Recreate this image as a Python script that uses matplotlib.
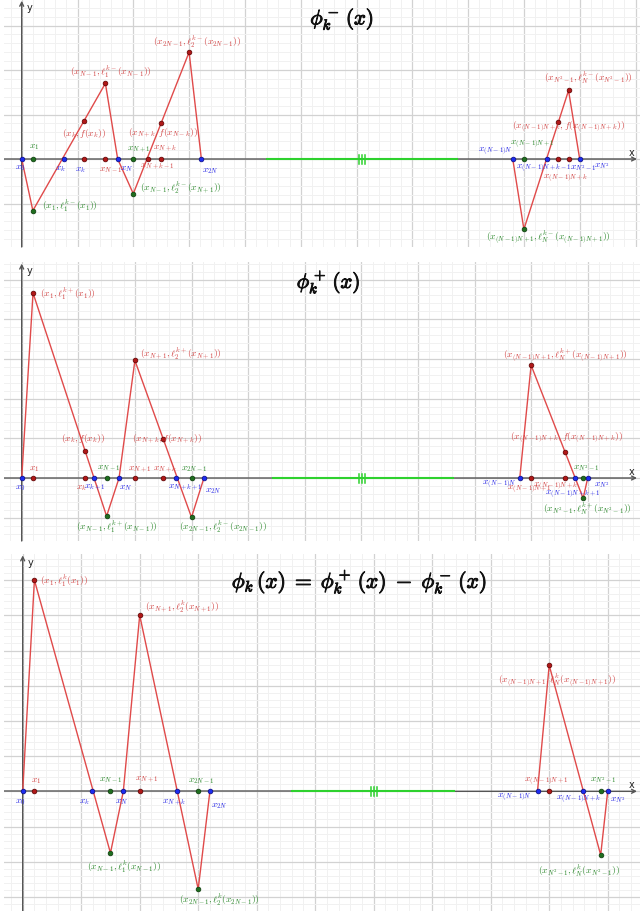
import numpy as np
import matplotlib
matplotlib.use("Agg")
import matplotlib.pyplot as plt
import matplotlib.patheffects as pe

plt.rcParams['mathtext.fontset'] = 'cm'
plt.rcParams['font.family'] = ['DejaVu Sans']

# ---------------- data ----------------
# panel 1 : phi_k^-
p1_left_x = [0, 1, 7.5, 8.6, 10, 15, 16.1]
p1_left_y = [0, -5.8, 8.5, 0, -3.9, 12.0, 0]
p1_right_x = [44, 45, 49, 50]
p1_right_y = [0, -7.9, 7.7, 0]
p1_blue = [0, 3.8, 8.6, 16.1, 44, 47.1, 50]
p1_red_axis = [5.6, 7.5, 11.3, 12.5, 48.1, 49]
p1_green_axis = [1, 10, 45]
p1_red_on_curve = [5.6, 7.5, 12.5, 15, 48.1, 49]
p1_green_on_curve = [1, 10, 45]
p1_gap = [22, 39, 30.5]

# panel 2 : phi_k^+
p2_left_x = [0, 1, 7.5, 8.6, 10, 15, 16.1]
p2_left_y = [0, 23.3, -4.8, 0, 14.8, -4.95, 0]
p2_right_x = [44, 45, 49.6, 50]
p2_right_y = [0, 14.2, -2.56, 0]
p2_blue = [0, 6.4, 8.6, 13.6, 16.1, 44, 48.9, 50]
p2_red_axis = [1, 5.6, 10, 12.5, 45, 48]
p2_green_axis = [7.5, 15, 49.6]
p2_red_on_curve = [1, 5.6, 10, 12.5, 45, 48]
p2_green_on_curve = [7.5, 15, 49.6]
p2_gap = [22.2, 38.1, 30.1]

# panel 3 : phi_k = phi_k^+ - phi_k^-
p3_left_x = [0, 1, 7.5, 8.6, 10, 15, 16.0]
p3_left_y = [0, 30.0, -8.76, 0, 25.0, -13.9, 0]
p3_right_x = [44, 45, 49.4, 50]
p3_right_y = [0, 17.9, -9.05, 0]
p3_blue = [0, 5.9, 8.6, 13.2, 16.0, 44, 47.9, 50]
p3_red_axis = [1, 10, 45]
p3_green_axis = [7.5, 15, 49.4]
p3_red_on_curve = [1, 10, 45]
p3_green_on_curve = [7.5, 15, 49.4]
p3_gap = [23, 36.9, 30]

R, G, B = 'r', 'g', 'b'
labels1 = [
    (r"$x_1$", 0.65, 1.46, G), (r"$x_0$", -0.6, -0.9, B),
    (r"$(x_1,\ell_1^{k-}(x_1))$", 1.82, -5.17, G),
    (r"$x_k$", 2.98, -1.0, B), (r"$x_k$", 4.78, -1.12, B),
    (r"$(x_k,f(x_k))$", 3.61, 3.03, R),
    (r"$x_{N-1}$", 6.93, -1.12, R), (r"$x_N$", 8.8, -1.0, B),
    (r"$(x_{N-1},\ell_1^{k-}(x_{N-1}))$", 4.33, 9.78, R),
    (r"$x_{N+1}$", 9.44, 1.12, G),
    (r"$(x_{N+k},f(x_{N-k}))$", 9.53, 3.03, R),
    (r"$x_{N+k}$", 11.76, 1.24, R), (r"$x_{N+k-1}$", 10.6, -0.79, R),
    (r"$(x_{N-1},\ell_2^{k-}(x_{N+1}))$", 10.6, -3.15, G),
    (r"$(x_{2N-1},\ell_2^{k-}(x_{2N-1}))$", 11.76, 13.15, R),
    (r"$x_{2N}$", 16.2, -1.24, B),
    (r"$x_{(N-1)N}$", 40.9, 0.9, B), (r"$x_{(N-1)N+1}$", 43.75, 1.69, G),
    (r"$x_{(N-1)N+k-1}$", 44.3, -1.0, B), (r"$x_{N^2-1}$", 49.1, -0.9, B),
    (r"$x_{N^2}$", 51.3, -0.67, B), (r"$x_{(N-1)N+k}$", 46.7, -2.13, R),
    (r"$(x_{(N-1)N+k},f(x_{(N-1)N+k}))$", 43.93, 3.7, R),
    (r"$(x_{N^2-1},\ell_N^{k-}(x_{N^2-1}))$", 46.8, 9.2, R),
    (r"$(x_{(N-1)N+1},\ell_N^{k-}(x_{(N-1)N+1}))$", 41.6, -8.76, G),
]
labels2 = [
    (r"$(x_1,\ell_1^{k+}(x_1))$", 1.62, 23.3, R), (r"$x_1$", 0.64, 1.26, R),
    (r"$x_0$", -0.6, -1.13, B), (r"$(x_k,f(x_k))$", 3.47, 5.04, R),
    (r"$x_k$", 4.8, -1.13, R), (r"$x_{k+1}$", 5.5, -1.13, B),
    (r"$x_{N-1}$", 6.66, 1.39, G), (r"$x_N$", 8.6, -1.13, B),
    (r"$(x_{N-1},\ell_1^{k+}(x_{N-1}))$", 4.8, -6.05, G),
    (r"$(x_{N+1},\ell_2^{k+}(x_{N+1}))$", 10.45, 15.74, R),
    (r"$(x_{N+k},f(x_{N+k}))$", 9.74, 5.04, R),
    (r"$x_{N+1}$", 9.39, 1.13, R), (r"$x_{N+k}$", 11.6, 1.13, R),
    (r"$x_{N+k+1}$", 12.9, -1.13, B), (r"$x_{2N-1}$", 14.07, 1.26, G),
    (r"$x_{2N}$", 16.2, -1.5, B),
    (r"$(x_{2N-1},\ell_2^{k-}(x_{2N-1}))$", 13.9, -6.17, G),
    (r"$(x_{(N-1)N+1},\ell_N^{k+}(x_{(N-1)N+1}))$", 42.5, 15.5, R),
    (r"$(x_{(N-1)N+k},f(x_{(N-1)N+k}))$", 43.1, 5.16, R),
    (r"$x_{N^2-1}$", 48.7, 1.39, G), (r"$x_{(N-1)N}$", 40.66, -0.76, B),
    (r"$x_{(N-1)N+1}$", 42.9, -1.39, R), (r"$x_{(N-1)N+k}$", 45.2, -1.0, R),
    (r"$x_{(N-1)N+k+1}$", 46.2, -2.0, B), (r"$x_{N^2}$", 50.56, -0.76, B),
    (r"$(x_{N^2-1},\ell_N^{k+}(x_{N^2-1}))$", 46.05, -3.9, G),
]
labels3 = [
    (r"$(x_1,\ell_1^{k}(x_1))$", 1.48, 29.9, R), (r"$x_1$", 0.71, 1.65, R),
    (r"$x_0$", -0.66, -1.34, B), (r"$x_k$", 4.81, -1.38, B),
    (r"$x_{N-1}$", 6.52, 1.75, G), (r"$x_N$", 7.9, -1.38, B),
    (r"$x_{N+1}$", 9.6, 1.75, R),
    (r"$(x_{N-1},\ell_1^{k}(x_{N-1}))$", 5.5, -10.75, G),
    (r"$(x_{N+1},\ell_2^{k}(x_{N+1}))$", 10.45, 26.2, R),
    (r"$x_{N+k}$", 11.9, -1.52, B), (r"$x_{2N-1}$", 14.1, 1.65, G),
    (r"$x_{2N}$", 16.1, -1.9, B),
    (r"$(x_{2N-1},\ell_2^{k}(x_{2N-1}))$", 13.4, -15.4, G),
    (r"$(x_{(N-1)N+1},\ell_N^{k}(x_{(N-1)N+1}))$", 40.6, 15.85, R),
    (r"$x_{(N-1)N+1}$", 42.85, 1.5, R), (r"$x_{N^2-1}$", 48.5, 1.75, G),
    (r"$x_{(N-1)N}$", 40.5, -0.85, B), (r"$x_{(N-1)N+k}$", 45.6, -1.1, B),
    (r"$x_{N^2}$", 50.2, -1.1, B),
    (r"$(x_{N^2-1},\ell_N^{k}(x_{N^2-1}))$", 44.07, -11.2, G),
]

titles = [r"$\phi_k^-\,(x)$", r"$\phi_k^+\,(x)$",
          r"$\phi_k\,(x)\;=\;\phi_k^+\,(x)\;-\;\phi_k^-\,(x)$"]

# ---------------- style ----------------
W, H = 640, 912
TXT = {R: '#d24545', G: '#2f8a2f', B: '#2a2ae6'}
PT = {R: ('#b01818', '#5a0000'), G: ('#1f6e1f', '#0b3a0b'), B: ('#1c2cf0', '#0a0a80')}
LINE = '#e04a4a'

panels = [
    dict(top=0, bot=248, ox=21.7, ux=11.16, oy=160, uy=8.9,
         L=(p1_left_x, p1_left_y), Rt=(p1_right_x, p1_right_y),
         blue=p1_blue, ra=p1_red_axis, ga=p1_green_axis,
         rc=p1_red_on_curve, gc=p1_green_on_curve, gap=p1_gap,
         labels=labels1, title=titles[0], tpos=(28.7, 15.7), tfs=15),
    dict(top=263, bot=542, ox=21.7, ux=11.32, oy=479, uy=7.94,
         L=(p2_left_x, p2_left_y), Rt=(p2_right_x, p2_right_y),
         blue=p2_blue, ra=p2_red_axis, ga=p2_green_axis,
         rc=p2_red_on_curve, gc=p2_green_on_curve, gap=p2_gap,
         labels=labels2, title=titles[1], tpos=(27.1, 24.7), tfs=15),
    dict(top=555, bot=912, ox=22.7, ux=11.7, oy=792.3, uy=7.04,
         L=(p3_left_x, p3_left_y), Rt=(p3_right_x, p3_right_y),
         blue=p3_blue, ra=p3_red_axis, ga=p3_green_axis,
         rc=p3_red_on_curve, gc=p3_green_on_curve, gap=p3_gap,
         labels=labels3, title=titles[2], tpos=(28.8, 29.9), tfs=15.5),
]

fig = plt.figure(figsize=(W / 100, H / 100), dpi=100)
fig.patch.set_facecolor('white')

for P in panels:
    left_px, right_px = 4, 640
    ax = fig.add_axes([left_px / W, 1 - P['bot'] / H,
                       (right_px - left_px) / W, (P['bot'] - P['top']) / H])
    x0 = (left_px - P['ox']) / P['ux']
    x1 = (right_px - P['ox']) / P['ux']
    y0 = (P['oy'] - P['bot']) / P['uy']
    y1 = (P['oy'] - P['top']) / P['uy']
    ax.set_xlim(x0, x1)
    ax.set_ylim(y0, y1)
    ax.set_xticks(np.arange(np.ceil(x0 / 5) * 5, x1, 5))
    ax.set_xticks(np.arange(np.ceil(x0), x1, 1), minor=True)
    ax.set_yticks(np.arange(np.ceil(y0 / 5) * 5, y1, 5))
    ax.set_yticks(np.arange(np.ceil(y0), y1, 1), minor=True)
    ax.grid(which='minor', color='#f1f1f1', lw=0.7, zorder=0)
    ax.grid(which='major', color='#d2d2d2', lw=0.9, zorder=0)
    ax.tick_params(which='both', length=0, labelbottom=False, labelleft=False)
    for s in ax.spines.values():
        s.set_visible(False)
    ax.set_axisbelow(True)

    # axes lines
    gs, ge, gt = P['gap']
    axis_end = (637 - P['ox']) / P['ux']
    ax.plot([x0, gs], [0, 0], color='#666666', lw=1.1, zorder=2)
    ax.annotate('', xy=(axis_end, 0), xytext=(ge, 0),
                arrowprops=dict(arrowstyle='->', color='#555555', lw=1.0,
                                mutation_scale=7, shrinkA=0, shrinkB=0), zorder=2)
    ax.plot([gs, ge], [0, 0], color='#2ed12e', lw=1.5, zorder=3)
    for d in (-0.27, 0, 0.27):
        ax.plot([gt + d, gt + d], [-4.5 / P['uy'], 4.5 / P['uy']],
                color='#2ed12e', lw=1.1, zorder=3)
    ax.annotate('', xy=(0, y1 - 0.2), xytext=(0, y0),
                arrowprops=dict(arrowstyle='->', color='#555555', lw=1.0,
                                mutation_scale=7, shrinkA=0, shrinkB=0), zorder=2)
    ax.text(0.45, y1 - 8 / P['uy'], 'y', fontsize=7, color='#222222',
            ha='left', va='center')
    ax.text(axis_end - 0.5, 7 / P['uy'], 'x', fontsize=7, color='#222222',
            ha='center', va='center')

    # polylines
    for xs, ys in (P['L'], P['Rt']):
        ax.plot(xs, ys, color=LINE, lw=1.0, zorder=4)

    def on_curve(xq):
        out = []
        for xv in xq:
            if xv <= P['L'][0][-1]:
                out.append(np.interp(xv, P['L'][0], P['L'][1]))
            else:
                out.append(np.interp(xv, P['Rt'][0], P['Rt'][1]))
        return np.array(out)

    def pts(xs, ys, c):
        ax.plot(xs, ys, 'o', ms=3.4, mfc=PT[c][0], mec=PT[c][1], mew=0.5,
                zorder=6, linestyle='none')

    pts(P['ra'], np.zeros(len(P['ra'])), R)
    pts(P['ga'], np.zeros(len(P['ga'])), G)
    pts(P['rc'], on_curve(P['rc']), R)
    pts(P['gc'], on_curve(P['gc']), G)
    pts(P['blue'], np.zeros(len(P['blue'])), B)

    for t, tx, ty, c in P['labels']:
        ax.text(tx, ty, t, color=TXT[c], fontsize=6.9, ha='left', va='center',
                zorder=7)

    tt = ax.text(P['tpos'][0], P['tpos'][1], P['title'], fontsize=P['tfs'],
                 color='#111111', ha='center', va='center', zorder=7)
    tt.set_path_effects([pe.withStroke(linewidth=0.7, foreground='#111111')])

fig.savefig('out.png', dpi=100, facecolor='white')
